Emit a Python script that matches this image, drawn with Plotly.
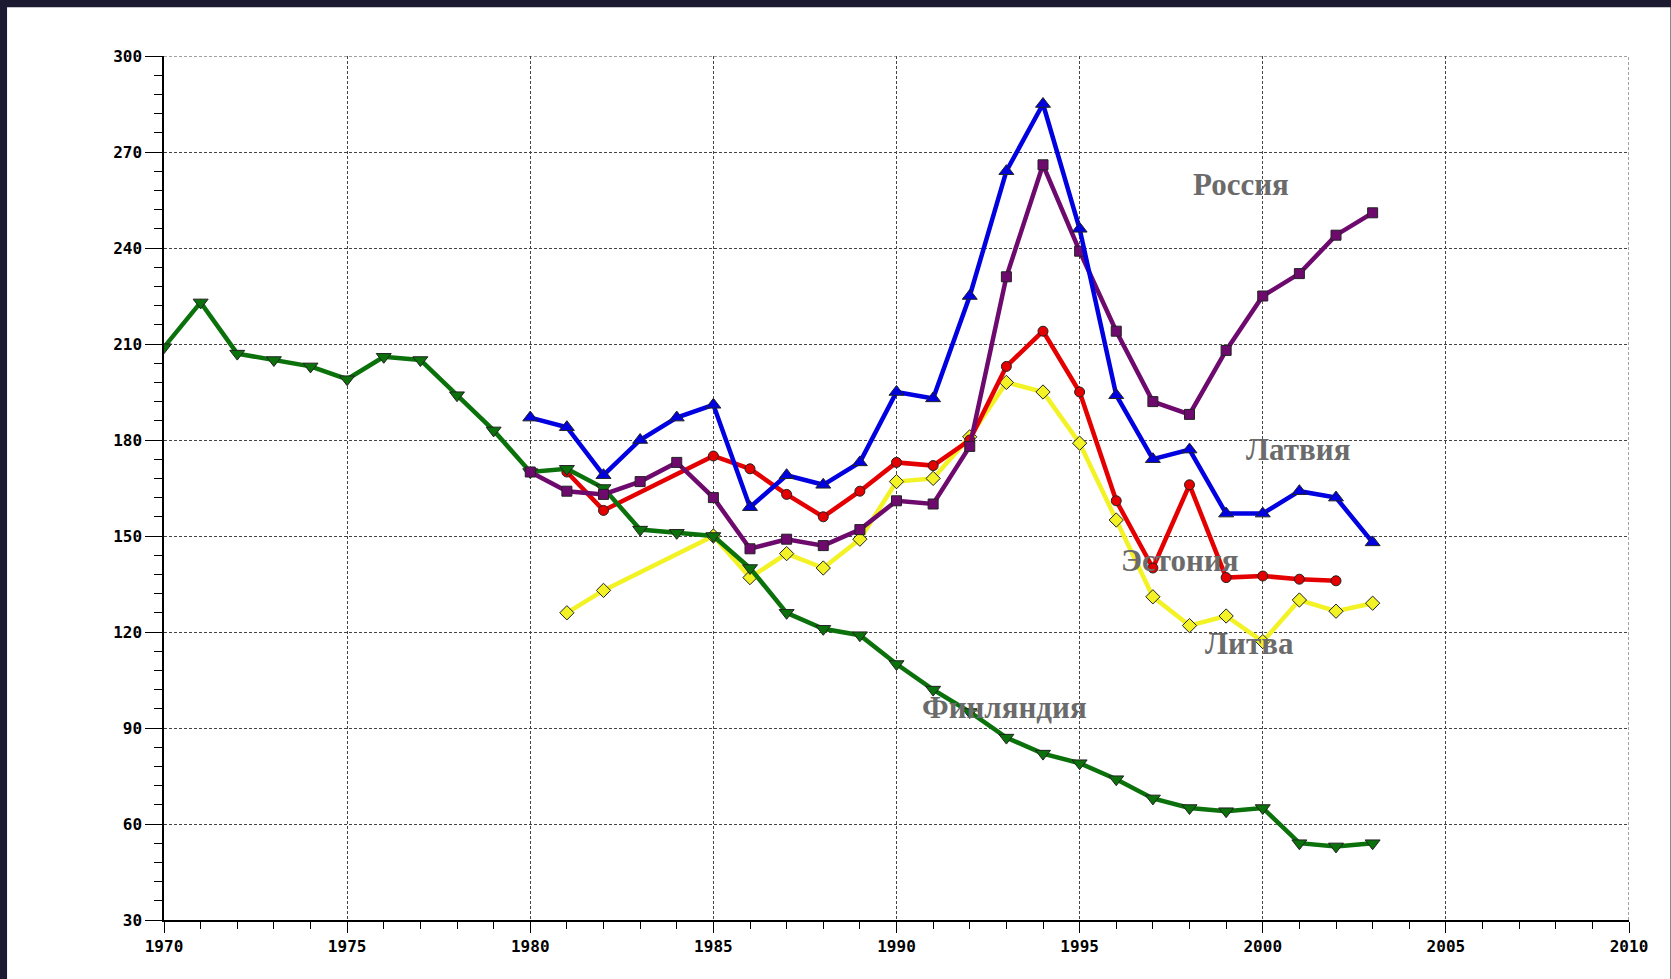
import plotly.graph_objects as go

# ---- data ----
fin_years = list(range(1970, 2004))
fin_vals = [209, 223, 207, 205, 203, 199, 206, 205, 194, 183, 170, 171, 165, 152, 151, 150,
            140, 126, 121, 119, 110, 102, 95, 87, 82, 79, 74, 68, 65, 64, 65, 54, 53, 54]

lat_years = list(range(1980, 2004))
lat_vals = [187, 184, 169, 180, 187, 191, 159, 169, 166, 173, 195, 193, 225, 264, 285, 246,
            194, 174, 177, 157, 157, 164, 162, 148]

rus_years = list(range(1980, 2004))
rus_vals = [170, 164, 163, 167, 173, 162, 146, 149, 147, 152, 161, 160, 178, 231, 266, 239,
            214, 192, 188, 208, 225, 232, 244, 251]

est_years = [1981, 1982, 1985, 1986, 1987, 1988, 1989, 1990, 1991, 1992, 1993, 1994, 1995,
             1996, 1997, 1998, 1999, 2000, 2001, 2002]
est_vals = [170, 158, 175, 171, 163, 156, 164, 173, 172, 180, 203, 214, 195,
            161, 140, 166, 137, 137.5, 136.5, 136]

lit_years = [1981, 1982, 1985, 1986, 1987, 1988, 1989, 1990, 1991, 1992, 1993, 1994, 1995,
             1996, 1997, 1998, 1999, 2000, 2001, 2002, 2003]
lit_vals = [126, 133, 150, 137, 144.5, 140, 149, 167, 168, 181, 198, 195, 179,
            155, 131, 122, 125, 117, 130, 126.5, 129]

label_names = ["Россия", "Латвия", "Эстония", "Литва", "Финляндия"]
label_x = [1999.4, 2000.95, 1997.75, 1999.65, 1992.95]
label_y = [260, 177, 142.5, 116.5, 96.5]

x_ticks = [1970, 1975, 1980, 1985, 1990, 1995, 2000, 2005, 2010]
y_ticks = [30, 60, 90, 120, 150, 180, 210, 240, 270, 300]
x_range = [1970, 2010]
y_range = [30, 300]

# ---- figure ----
fig = go.Figure()

series = [
    (lit_years, lit_vals, "#f2f224", "diamond", 11),
    (est_years, est_vals, "#e40000", "circle", 10),
    (fin_years, fin_vals, "#0b710b", "triangle-down", 13),
    (rus_years, rus_vals, "#6e0a6e", "square", 10),
    (lat_years, lat_vals, "#0000e0", "triangle-up", 13),
]
for xs, ys, col, sym, sz in series:
    fig.add_trace(go.Scatter(
        x=xs, y=ys, mode="lines+markers",
        line=dict(color=col, width=4.5),
        marker=dict(symbol=sym, size=sz, color=col, line=dict(color="#222222", width=1)),
        showlegend=False, hoverinfo="x+y"))

for name, lx, ly in zip(label_names, label_x, label_y):
    fig.add_annotation(x=lx, y=ly, text=name, showarrow=False,
                       font=dict(family="Liberation Serif", size=31, color="#6b6b6b", weight="bold"))

# white panel over dark background
L, R, T, B = 164, 41.5, 55.7, 59
pw = 1671 - L - R
ph = 979 - T - B
fig.add_shape(type="rect", xref="paper", yref="paper",
              x0=(7 - L) / pw, x1=(1671 - L) / pw,
              y0=-B / ph, y1=(ph + T - 7) / ph,
              fillcolor="white", line=dict(width=0), layer="below")

# dashed border gridlines at the far edges (top and right)
grid_style = dict(color="#444444", width=1, dash="3px,2px")
fig.add_shape(type="line", xref="x", yref="y", x0=x_range[1], x1=x_range[1],
              y0=y_range[0], y1=y_range[1], line=grid_style, layer="below")
fig.add_shape(type="line", xref="x", yref="y", x0=x_range[0], x1=x_range[1],
              y0=y_range[1], y1=y_range[1], line=grid_style, layer="below")

tickfont = dict(family="DejaVu Sans Mono", size=16, color="black", weight="bold")
fig.update_xaxes(range=x_range, tickvals=x_ticks, ticktext=[str(v) for v in x_ticks],
                 ticks="outside", ticklen=11, tickcolor="black", tickwidth=1,
                 minor=dict(dtick=1, tick0=1970, ticks="outside", ticklen=7, tickcolor="black", showgrid=False),
                 showline=True, linecolor="black", linewidth=1.5, mirror=False,
                 showgrid=True, gridcolor="#444444", gridwidth=1, griddash="3px,2px",
                 zeroline=False, tickfont=tickfont)
fig.update_yaxes(range=y_range, tickvals=y_ticks, ticktext=[str(v) for v in y_ticks],
                 ticks="outside", ticklen=17, tickcolor="black", tickwidth=1,
                 minor=dict(dtick=6, tick0=30, ticks="outside", ticklen=8, tickcolor="black", showgrid=False),
                 showline=True, linecolor="black", linewidth=1.5,
                 showgrid=True, gridcolor="#444444", gridwidth=1, griddash="3px,2px",
                 zeroline=False, tickfont=tickfont)

fig.update_layout(width=1671, height=979, autosize=False,
                  margin=dict(l=L, r=R, t=T, b=B, pad=0),
                  paper_bgcolor="#1b1a30", plot_bgcolor="white")

fig.write_html("out.html", config={"displayModeBar": False},
               post_script="document.body.style.margin='0';document.body.style.overflow='hidden';")
